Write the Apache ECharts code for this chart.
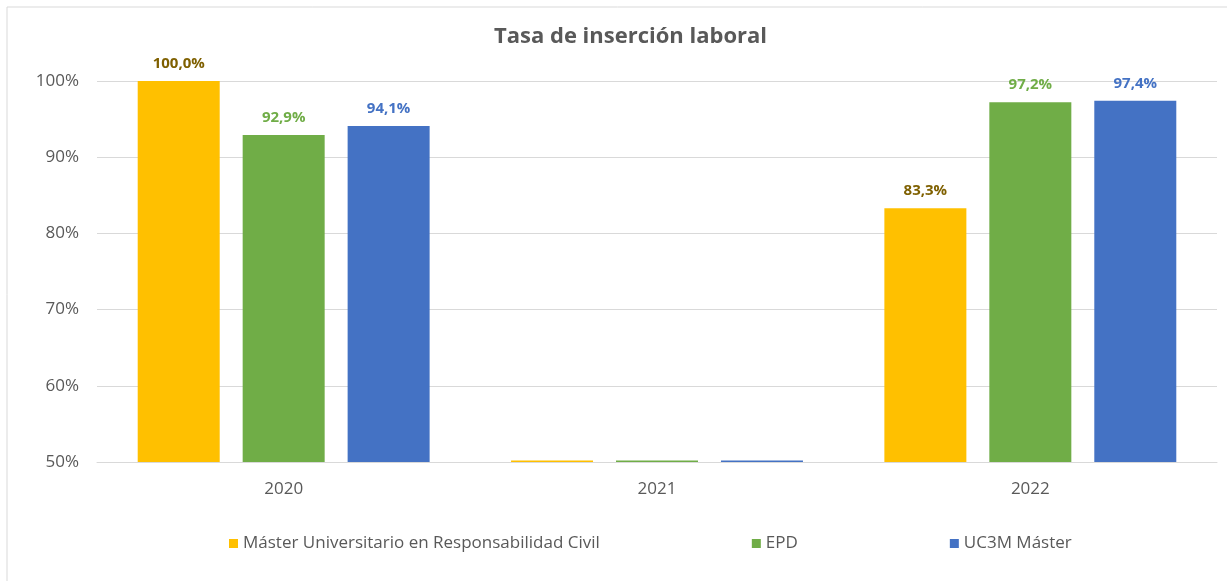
<!DOCTYPE html>
<html>
<head>
<meta charset="utf-8">
<script src="https://cdn.jsdelivr.net/npm/echarts@6/dist/echarts.min.js"></script>
<style>
html,body{margin:0;padding:0;background:#fff;}
#chart{width:1227px;height:581px;}
</style>
</head>
<body>
<div id="chart"></div>
<script>
const categories = ['2020', '2021', '2022'];
const seriesNames = ['Máster Universitario en Responsabilidad Civil', 'EPD', 'UC3M Máster'];
const masterRC = [100.0, 50.2, 83.3];
const epd = [92.9, 50.2, 97.2];
const uc3m = [94.1, 50.2, 97.4];
const yTicks = [50, 60, 70, 80, 90, 100];
const labelThreshold = 51;

const barColors = ['#FFC000', '#70AD47', '#4472C4'];
const labelColors = ['#7F6000', '#70AD47', '#4472C4'];
const FONT = '"Open Sans", "Noto Sans", sans-serif';

const chart = echarts.init(document.getElementById('chart'));

function mkSeries(name, data, i) {
  return {
    name: name,
    type: 'bar',
    data: data,
    barWidth: 82,
    barGap: '28%',
    clip: true,
    itemStyle: { color: barColors[i] },
    label: {
      show: true,
      position: 'top',
      distance: 10,
      color: labelColors[i],
      fontFamily: FONT,
      fontWeight: 'bold',
      fontSize: 15,
      formatter: p => p.value < labelThreshold ? '' : p.value.toFixed(1).replace('.', ',') + '%'
    }
  };
}

chart.setOption({
  animation: false,
  textStyle: { fontFamily: FONT },
  title: {
    text: 'Tasa de inserción laboral',
    left: 489,
    top: 21,
    textStyle: { fontFamily: FONT, fontSize: 22, fontWeight: 'bold', color: '#595959' }
  },
  graphic: [{
    type: 'rect',
    shape: { x: 7, y: 7, width: 1240, height: 600 },
    style: { fill: 'none', stroke: '#D9D9D9', lineWidth: 1 },
    silent: true
  }],
  legend: {
    bottom: 24,
    left: 224,
    itemWidth: 9,
    itemHeight: 9,
    itemGap: 152,
    icon: 'rect',
    textStyle: { fontFamily: FONT, fontSize: 17, color: '#595959' },
    data: seriesNames
  },
  grid: { left: 97, right: 10, top: 81, bottom: 119, containLabel: false },
  xAxis: {
    type: 'category',
    data: categories,
    axisTick: { show: false },
    axisLine: { lineStyle: { color: '#D9D9D9', width: 1 } },
    axisLabel: { fontFamily: FONT, fontSize: 17, color: '#595959', margin: 19 }
  },
  yAxis: {
    type: 'value',
    min: yTicks[0],
    max: yTicks[yTicks.length - 1],
    interval: 10,
    axisLine: { show: false },
    axisTick: { show: false },
    splitLine: { lineStyle: { color: '#D9D9D9', width: 1 } },
    axisLabel: { fontFamily: FONT, fontSize: 17, color: '#595959', margin: 18, formatter: v => v + '%' }
  },
  series: [
    mkSeries(seriesNames[0], masterRC, 0),
    mkSeries(seriesNames[1], epd, 1),
    mkSeries(seriesNames[2], uc3m, 2)
  ]
});
</script>
</body>
</html>
